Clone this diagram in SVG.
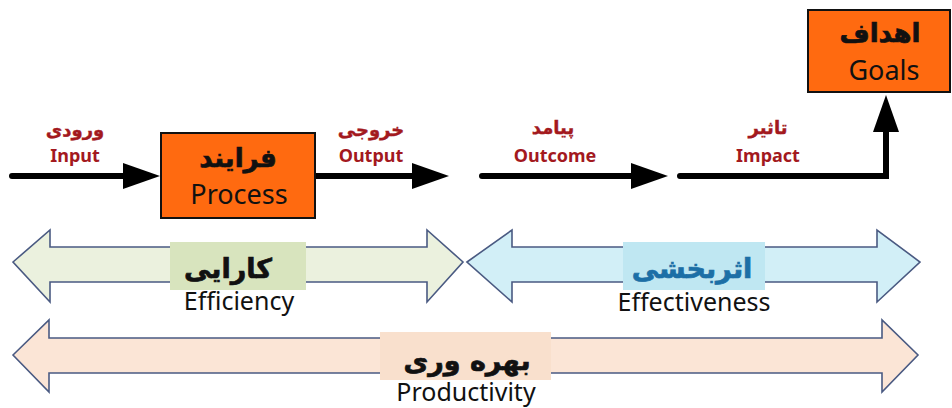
<svg xmlns="http://www.w3.org/2000/svg" width="952" height="408" viewBox="0 0 952 408">
<style>
.lat{font-family:"Noto Sans","Open Sans","Liberation Sans",sans-serif;fill:#111;text-anchor:middle}
.fa{font-family:"DejaVu Sans",sans-serif;font-weight:bold;text-anchor:middle}
.big{stroke-width:0.7;paint-order:stroke}
.red{fill:#A3191E;stroke:#A3191E;stroke-width:0.4}
.lbl{font-family:"Noto Sans","Liberation Sans",sans-serif;font-weight:bold;font-size:18px;text-anchor:middle;fill:#A3191E}
.box{fill:#FF6A10;stroke:#111;stroke-width:2}
.dbl{stroke:#4A5A82;stroke-width:1.6}
.conn{fill:none;stroke:#000;stroke-width:6;stroke-linecap:round;stroke-linejoin:miter}
</style>
<defs>
<marker id="ah" markerUnits="userSpaceOnUse" markerWidth="37" markerHeight="26" viewBox="0 0 37 26" refX="17" refY="13" orient="auto">
<path d="M0,0 L37,13 L0,26 Z" fill="#000"/>
</marker>
</defs>
<rect width="952" height="408" fill="#fff"/>

<g id="connectors">
<line class="conn" x1="12" y1="176" x2="140" y2="176" marker-end="url(#ah)"/>
<line class="conn" x1="316" y1="176" x2="429" y2="176" marker-end="url(#ah)"/>
<line class="conn" x1="482" y1="176" x2="648" y2="176" marker-end="url(#ah)"/>
<polyline class="conn" points="680,176 886,176 886,115" marker-end="url(#ah)"/>
</g>

<g id="input-label">
<text class="fa red" x="75" y="136" font-size="18">ورودی</text>
<text class="lbl" x="75" y="162">Input</text>
</g>
<g id="output-label">
<text class="fa red" x="371" y="136" font-size="18">خروجی</text>
<text class="lbl" x="371" y="162">Output</text>
</g>
<g id="outcome-label">
<text class="fa red" x="553" y="134" font-size="18">پیامد</text>
<text class="lbl" x="555" y="162">Outcome</text>
</g>
<g id="impact-label">
<text class="fa red" x="768" y="134" font-size="18">تاثیر</text>
<text class="lbl" x="768" y="162">Impact</text>
</g>

<g id="process">
<rect class="box" x="161" y="133" width="154" height="85"/>
<text class="fa big" x="238" y="167" font-size="26" fill="#111" stroke="#111">فرایند</text>
<text class="lat" x="239" y="204" font-size="27">Process</text>
</g>

<g id="goals">
<rect class="box" x="808" y="10" width="142" height="82"/>
<text class="fa big" x="880" y="42" font-size="26" fill="#111" stroke="#111">اهداف</text>
<text class="lat" x="884" y="80" font-size="27">Goals</text>
</g>

<g id="efficiency">
<path class="dbl" fill="#EBF1DE" d="M13,262 L50,230 L50,247 L427,247 L427,230 L463,262 L427,302 L427,282 L50,282 L50,302 Z"/>
<rect x="170" y="242" width="136" height="48" fill="#D8E4BE"/>
<text class="fa big" x="228" y="278" font-size="27" fill="#111" stroke="#111">کارایی</text>
<text class="lat" x="239" y="310" font-size="25">Efficiency</text>
</g>

<g id="effectiveness">
<path class="dbl" fill="#D2EFF7" d="M467,262 L512,230 L512,247 L877,247 L877,230 L920,262 L877,302 L877,282 L512,282 L512,302 Z"/>
<rect x="623" y="242" width="142" height="48" fill="#BFE7F2"/>
<text class="fa big" x="692" y="278" font-size="27" fill="#1C6FA6" stroke="#1C6FA6">اثربخشی</text>
<text class="lat" x="694" y="311" font-size="25">Effectiveness</text>
</g>

<g id="productivity">
<path class="dbl" fill="#FBE5D6" d="M13,355 L49,320 L49,338 L882,338 L882,320 L918,355 L882,392 L882,373 L49,373 L49,392 Z"/>
<rect x="380" y="332" width="171" height="48" fill="#F9E0CD"/>
<text class="fa big" x="467" y="370" font-size="27" fill="#111" stroke="#111">بهره وری</text>
<text class="lat" x="466" y="401" font-size="25">Productivity</text>
</g>
</svg>
